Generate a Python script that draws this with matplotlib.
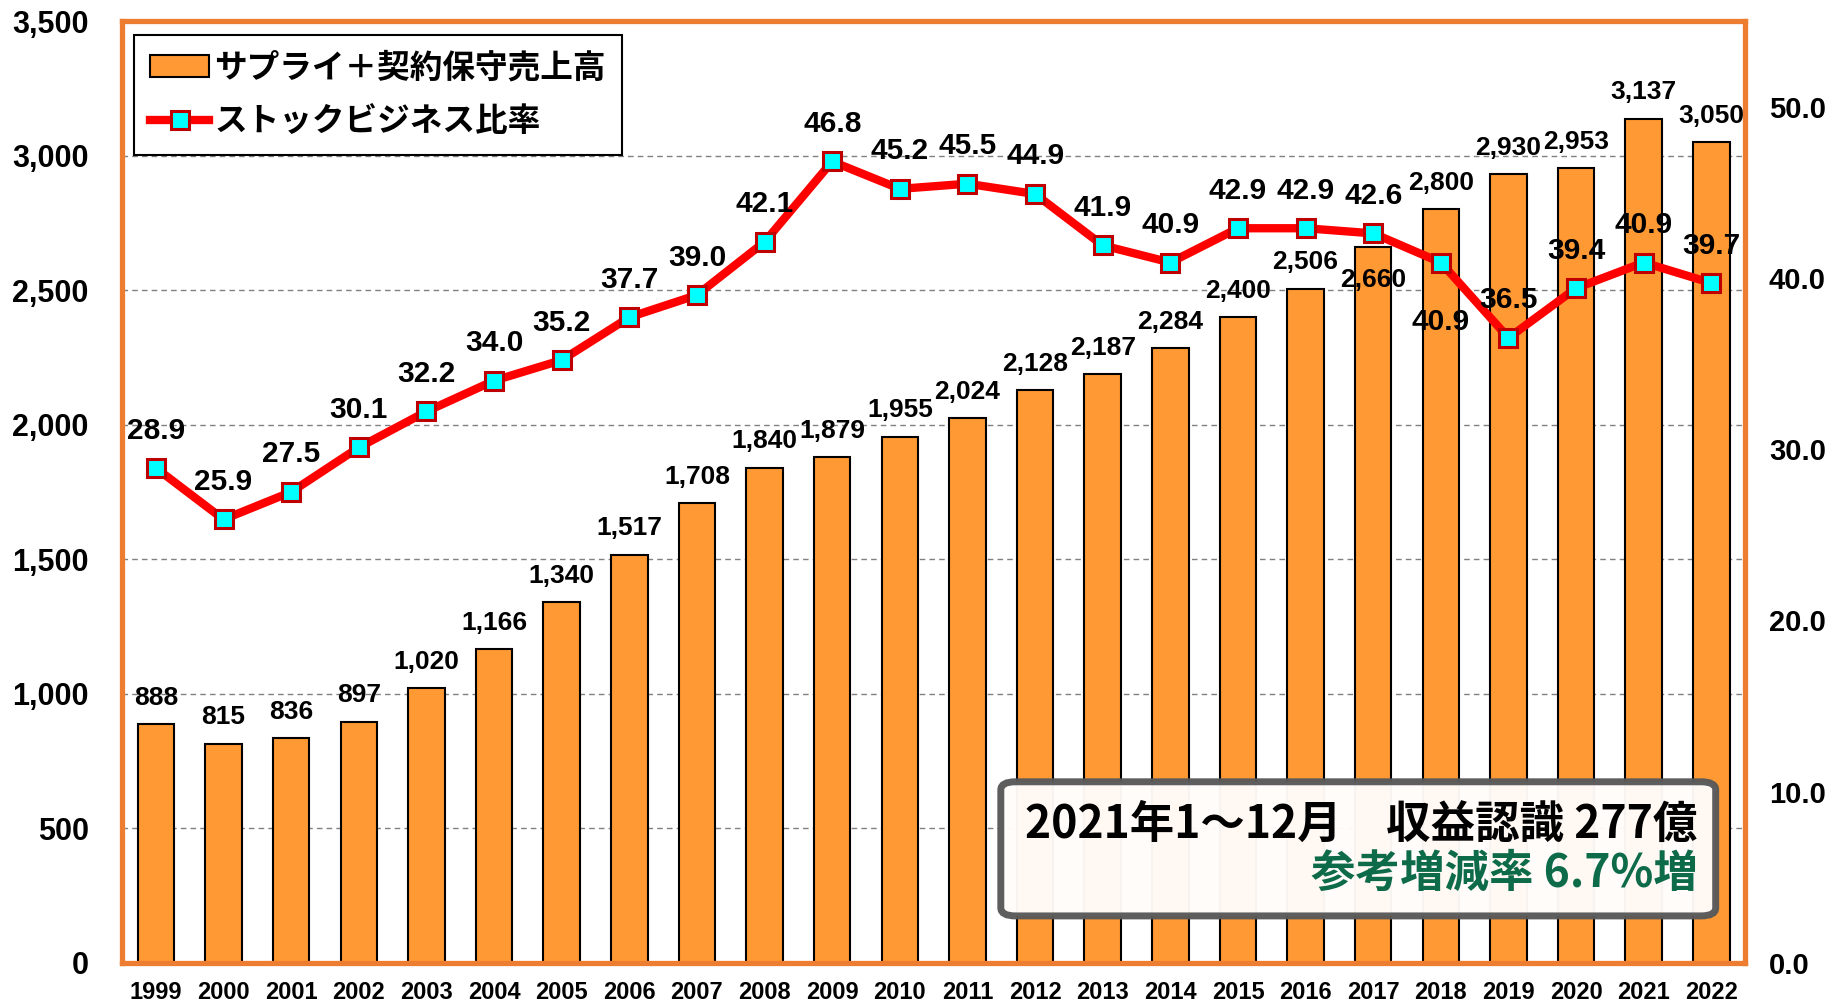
import matplotlib
matplotlib.use("Agg")
import matplotlib.pyplot as plt
from matplotlib.patches import FancyBboxPatch, Patch
from matplotlib.lines import Line2D
from matplotlib.ticker import FuncFormatter, MultipleLocator

# data
years = ["1999", "2000", "2001", "2002", "2003", "2004", "2005", "2006",
         "2007", "2008", "2009", "2010", "2011", "2012", "2013", "2014",
         "2015", "2016", "2017", "2018", "2019", "2020", "2021", "2022"]
sales = [888, 815, 836, 897, 1020, 1166, 1340, 1517, 1708, 1840, 1879, 1955,
         2024, 2128, 2187, 2284, 2400, 2506, 2660, 2800, 2930, 2953, 3137, 3050]
stock_ratio = [28.9, 25.9, 27.5, 30.1, 32.2, 34.0, 35.2, 37.7, 39.0, 42.1, 46.8, 45.2,
               45.5, 44.9, 41.9, 40.9, 42.9, 42.9, 42.6, 40.9, 36.5, 39.4, 40.9, 39.7]

bar_label = "サプライ＋契約保守売上高"
line_label = "ストックビジネス比率"
note_line1 = "2021年1～12月　収益認識 277億"
note_line2 = "参考増減率 6.7%増"

num_font = "Liberation Sans"
jp_font = ["Noto Sans CJK JP", "DejaVu Sans"]
orange = "#FF9933"
frame = "#ED7D31"

fig = plt.figure(figsize=(18.33, 10.01), dpi=100)
ax = fig.add_axes([0.0666, 0.038, 0.8855, 0.941])
x = list(range(len(years)))

ax.bar(x, sales, width=0.54, color=orange, edgecolor="black", linewidth=1.5, zorder=2)
ax.set_xlim(-0.5, len(years) - 0.5)
ax.set_ylim(0, 3500)
ax.yaxis.set_major_locator(MultipleLocator(500))
ax.yaxis.set_major_formatter(FuncFormatter(lambda v, p: f"{v:,.0f}"))
ax.grid(axis="y", color="#808080", linestyle=(0, (4, 3)), linewidth=1, zorder=0)
ax.set_xticks(x)
ax.set_xticklabels(years)
ax.tick_params(axis="x", length=0, pad=13)
ax.tick_params(axis="y", length=0, pad=24)
for lab in ax.get_xticklabels():
    lab.set_fontfamily(num_font); lab.set_fontweight("bold"); lab.set_fontsize(17)
for lab in ax.get_yticklabels():
    lab.set_fontfamily(num_font); lab.set_fontweight("bold"); lab.set_fontsize(22)
for s in ax.spines.values():
    s.set_color(frame); s.set_linewidth(3.8)

for i, v in enumerate(sales):
    off = -24 if years[i] == "2017" else 19
    ax.annotate(f"{v:,}", (i, v), xytext=(0, off), textcoords="offset points",
                ha="center", va="center", fontsize=19, fontweight="bold",
                family=num_font, zorder=3)

ax2 = ax.twinx()
ax2.set_ylim(0, 55)
ax2.yaxis.set_major_locator(MultipleLocator(10))
ax2.yaxis.set_major_formatter(FuncFormatter(lambda v, p: f"{v:.1f}"))
ax2.tick_params(axis="y", length=0, pad=17)
for lab in ax2.get_yticklabels():
    lab.set_fontfamily(num_font); lab.set_fontweight("bold"); lab.set_fontsize(21)
for s in ax2.spines.values():
    s.set_visible(False)

ax2.plot(x, stock_ratio, color="#FF0000", linewidth=6, marker="s", markersize=13,
         markerfacecolor="#00FFFF", markeredgecolor="#C00000", markeredgewidth=2.2, zorder=4)
for i, v in enumerate(stock_ratio):
    off = -43 if years[i] == "2018" else 27
    ax2.annotate(f"{v:.1f}", (i, v), xytext=(0, off), textcoords="offset points",
                 ha="center", va="center", fontsize=21.5, fontweight="bold",
                 family=num_font, zorder=5)

handles = [Patch(facecolor=orange, edgecolor="black", linewidth=1.5),
           Line2D([0], [0], color="#FF0000", linewidth=6, marker="s", markersize=13,
                  markerfacecolor="#00FFFF", markeredgecolor="#C00000", markeredgewidth=2.2)]
leg = ax2.legend(handles, [bar_label, line_label], loc="upper left",
                 bbox_to_anchor=(0.0074, 0.985), fancybox=False, framealpha=1,
                 edgecolor="black", handlelength=1.8, handletextpad=0.15,
                 borderpad=0.5, labelspacing=0.65, borderaxespad=0,
                 prop={"family": jp_font, "weight": "bold", "size": 23.5})
leg.get_frame().set_linewidth(1.5)
leg.set_zorder(6)

box = FancyBboxPatch((0.546, 0.085), 0.390, 0.134, transform=fig.transFigure,
                     boxstyle="round,pad=0,rounding_size=0.008",
                     facecolor="#FFFCFA", edgecolor="#595959", linewidth=5,
                     alpha=0.97, zorder=10)
fig.patches.append(box)
fig.text(0.926, 0.176, note_line1, ha="right", va="center", fontsize=32,
         fontweight="bold", family=jp_font, color="black", zorder=11)
fig.text(0.926, 0.127, note_line2, ha="right", va="center", fontsize=32,
         fontweight="bold", family=jp_font, color="#0E6B4A", zorder=11)

plt.savefig("out.png", dpi=100)
